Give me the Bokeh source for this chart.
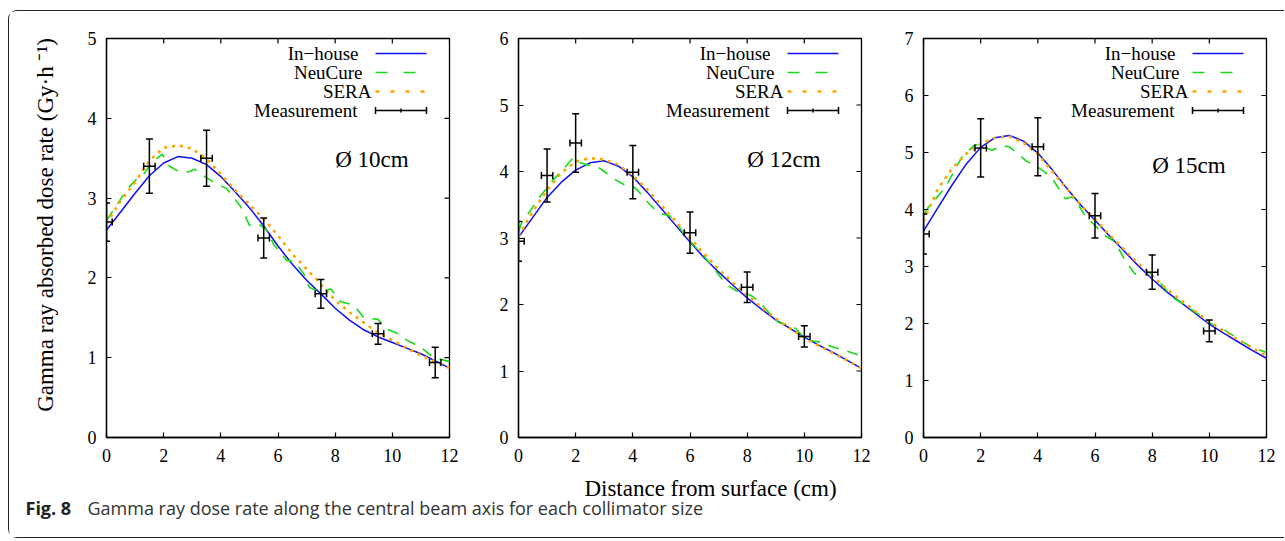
import math
from bokeh.plotting import figure
from bokeh.models import Range1d, FixedTicker, Label, ColumnDataSource
from bokeh.layouts import row, column
from bokeh.embed import file_html
from bokeh.resources import INLINE

SERIF = "Liberation Serif"
SANS = "Open Sans"

# ---------------- data ----------------
x_ticks = [0, 2, 4, 6, 8, 10, 12]
series_names = ["In\u2212house", "NeuCure", "SERA", "Measurement"]
panel_tags = ["\u00d8 10cm", "\u00d8 12cm", "\u00d8 15cm"]
y_max = [5, 6, 7]
y_title = "Gamma ray absorbed dose rate (Gy\u00b7h \u207b\u00b9)"
x_title = "Distance from surface (cm)"
caption_bold = "Fig. 8"
caption_text = "Gamma ray dose rate along the central beam axis for each collimator size"

x_model = [0, 0.5, 1, 1.5, 2, 2.5, 3, 3.5, 4, 4.5, 5, 5.5, 6, 6.5, 7, 7.5, 8,
           8.5, 9, 9.5, 10, 10.5, 11, 11.5, 12]

# 10 cm collimator
inhouse_10 = [2.60, 2.83, 3.06, 3.28, 3.44, 3.52, 3.50, 3.42, 3.27, 3.08, 2.88, 2.65,
              2.40, 2.17, 1.97, 1.80, 1.62, 1.47, 1.35, 1.26, 1.19, 1.12, 1.05, 0.96, 0.87]
sera_10 = [2.68, 2.97, 3.20, 3.47, 3.63, 3.66, 3.62, 3.49, 3.30, 3.10, 2.92, 2.74,
           2.53, 2.30, 2.11, 1.92, 1.72, 1.57, 1.44, 1.31, 1.22, 1.12, 1.03, 0.95, 0.87]
neucure_10_x = [0, 0.3, 0.7, 1.0, 1.3, 1.6, 1.95, 2.2, 2.5, 2.8, 3.1, 3.4, 3.75, 4.2,
                4.7, 5.0, 5.3, 5.6, 5.85, 6.3, 6.6, 6.9, 7.1, 7.3, 7.55, 7.85, 8.2,
                8.65, 9.0, 9.5, 9.8, 10.2, 10.5, 11.0, 11.45, 11.9, 12]
neucure_10_y = [2.72, 2.88, 3.10, 3.22, 3.30, 3.45, 3.55, 3.40, 3.34, 3.32, 3.36, 3.28,
                3.20, 3.12, 2.89, 2.66, 2.68, 2.60, 2.42, 2.22, 2.20, 2.05, 1.88, 1.85,
                1.84, 1.86, 1.70, 1.66, 1.50, 1.48, 1.36, 1.30, 1.22, 1.13, 1.00, 0.96, 0.95]
meas_10_x = [0, 1.5, 3.5, 5.5, 7.5, 9.5, 11.5]
meas_10_y = [2.70, 3.40, 3.50, 2.50, 1.80, 1.30, 0.94]
meas_10_err = [0.24, 0.34, 0.35, 0.25, 0.18, 0.13, 0.19]

# 12 cm collimator
inhouse_12 = [3.01, 3.31, 3.61, 3.84, 4.02, 4.13, 4.16, 4.08, 3.92, 3.69, 3.44, 3.19,
              2.94, 2.70, 2.49, 2.29, 2.10, 1.93, 1.77, 1.64, 1.51, 1.39, 1.28, 1.16, 1.04]
sera_12 = [3.02, 3.40, 3.72, 3.98, 4.15, 4.20, 4.18, 4.10, 3.94, 3.73, 3.49, 3.25,
           3.00, 2.76, 2.53, 2.33, 2.14, 1.96, 1.79, 1.64, 1.50, 1.38, 1.27, 1.16, 1.04]
neucure_12_x = [0, 0.15, 0.4, 0.7, 1.0, 1.2, 1.5, 1.9, 2.1, 2.4, 2.7, 3.0, 3.3, 3.7,
                4.0, 4.2, 4.6, 4.9, 5.3, 5.6, 5.85, 6.2, 6.5, 6.8, 7.25, 7.6, 7.9, 8.2,
                8.5, 8.8, 9.1, 9.4, 9.7, 10.05, 10.3, 10.6, 11.0, 11.4, 11.9, 12]
neucure_12_y = [3.10, 3.27, 3.40, 3.60, 3.75, 3.87, 4.00, 4.20, 4.14, 4.10, 4.09, 4.00,
                3.90, 3.80, 3.78, 3.70, 3.50, 3.38, 3.33, 3.18, 3.02, 2.86, 2.72, 2.56,
                2.31, 2.21, 2.18, 2.12, 2.00, 1.86, 1.73, 1.70, 1.64, 1.47, 1.45, 1.43,
                1.36, 1.31, 1.24, 1.22]
meas_12_x = [0, 1, 2, 4, 6, 8, 10]
meas_12_y = [2.95, 3.94, 4.43, 3.99, 3.08, 2.26, 1.52]
meas_12_err = [0.30, 0.40, 0.44, 0.40, 0.31, 0.23, 0.16]

# 15 cm collimator
inhouse_15 = [3.62, 4.03, 4.43, 4.80, 5.09, 5.26, 5.30, 5.20, 4.99, 4.70, 4.38, 4.08,
              3.81, 3.54, 3.28, 3.02, 2.78, 2.56, 2.37, 2.18, 1.99, 1.83, 1.68, 1.53, 1.39]
sera_15 = [3.79, 4.36, 4.72, 4.98, 5.15, 5.26, 5.28, 5.17, 4.97, 4.67, 4.37, 4.08,
           3.83, 3.56, 3.31, 3.06, 2.83, 2.61, 2.41, 2.22, 2.03, 1.87, 1.72, 1.57, 1.43]
neucure_15_x = [0, 0.17, 0.45, 0.76, 1.05, 1.34, 1.8, 2.1, 2.4, 2.74, 3.0, 3.3, 3.6,
                4.0, 4.26, 4.5, 4.7, 4.96, 5.19, 5.4, 5.66, 6.0, 6.36, 6.7, 7.06, 7.4,
                7.9, 8.3, 8.7, 9.0, 9.6, 9.97, 10.55, 11.1, 11.5, 11.95, 12]
neucure_15_y = [3.90, 4.04, 4.20, 4.39, 4.65, 4.92, 5.14, 5.10, 5.04, 5.12, 5.10, 4.98,
                4.85, 4.74, 4.65, 4.55, 4.39, 4.19, 4.22, 4.10, 3.88, 3.72, 3.54, 3.43,
                3.10, 2.87, 2.90, 2.70, 2.46, 2.37, 2.17, 2.02, 1.88, 1.70, 1.58, 1.50, 1.50]
meas_15_x = [0, 2, 4, 6, 8, 10]
meas_15_y = [3.57, 5.08, 5.10, 3.89, 2.90, 1.87]
meas_15_err = [0.35, 0.51, 0.51, 0.39, 0.30, 0.19]

meas_xerr = 0.2
tag_y = [3.48, 4.18, 4.77]

# ---------------- styling ----------------
BLUE = "#1010f0"
GREEN = "#16dc16"
ORANGE = "#ffa500"
BLACK = "#000000"

ROW_H = 458
FRAME_W = 343
FRAME_H = 399
TOP = 27


def style_axis(ax, ticks):
    ax.ticker = FixedTicker(ticks=ticks)
    ax.major_tick_in = 5
    ax.major_tick_out = 0
    ax.minor_tick_in = 0
    ax.minor_tick_out = 0
    ax.axis_line_color = BLACK
    ax.axis_line_width = 1.3
    ax.major_tick_line_color = BLACK
    ax.major_tick_line_width = 1.2
    ax.major_label_text_font = SERIF
    ax.major_label_text_color = BLACK
    ax.major_label_text_font_size = "18px"


def make_panel(idx, width, left, right, inhouse, sera, nx, ny, mx, my, merr):
    ymax = y_max[idx]
    p = figure(width=width, height=ROW_H,
               x_range=Range1d(0, 12), y_range=Range1d(0, ymax),
               output_backend="svg", toolbar_location=None,
               min_border_left=left, min_border_right=right,
               min_border_top=TOP, min_border_bottom=ROW_H - TOP - FRAME_H)
    p.xgrid.visible = False
    p.ygrid.visible = False
    p.outline_line_color = BLACK
    p.outline_line_width = 1.3
    p.background_fill_color = "white"
    p.border_fill_color = "white"

    ppx = FRAME_W / 12.0
    ppy = FRAME_H / float(ymax)

    yt = list(range(0, ymax + 1))
    style_axis(p.xaxis[0], x_ticks)
    p.xaxis[0].major_label_standoff = 11
    style_axis(p.yaxis[0], yt)
    p.yaxis[0].major_label_standoff = 10

    # mirrored inward ticks on top and right edges (half of each dash is clipped by the frame)
    p.scatter(x_ticks, [ymax] * len(x_ticks), marker="dash", angle=math.pi / 2, size=10,
              line_color=BLACK, line_width=1.2)
    p.scatter([12] * len(yt), yt, marker="dash", size=10, line_color=BLACK, line_width=1.2)

    # curves
    p.line(x_model, inhouse, line_color=BLUE, line_width=1.5)
    p.line(nx, ny, line_color=GREEN, line_width=1.6, line_dash="11 9")
    p.line(x_model, sera, line_color=ORANGE, line_width=2.6, line_dash="3 5")

    # measurements with x/y error bars
    src = ColumnDataSource(dict(
        x=mx, y=my,
        lo=[v - e for v, e in zip(my, merr)],
        hi=[v + e for v, e in zip(my, merr)],
        xl=[v - meas_xerr for v in mx],
        xr=[v + meas_xerr for v in mx],
    ))
    p.segment(x0="x", y0="lo", x1="x", y1="hi", source=src, line_color=BLACK, line_width=1.5)
    p.segment(x0="xl", y0="y", x1="xr", y1="y", source=src, line_color=BLACK, line_width=1.5)
    for ycol in ("lo", "hi"):
        p.scatter(x="x", y=ycol, source=src, marker="dash", size=7,
                  line_color=BLACK, line_width=1.5)
    for xcol in ("xl", "xr"):
        p.scatter(x=xcol, y="y", source=src, marker="dash", angle=math.pi / 2, size=7,
                  line_color=BLACK, line_width=1.5)

    # custom legend (text right-aligned, sample on the right)
    row_off = [15, 34, 53, 72]
    text_right = [252, 256, 265, 251]
    ly = [ymax - o / ppy for o in row_off]
    sx0, sx1 = 269 / ppx, 320 / ppx
    for name, yy, tr in zip(series_names, ly, text_right):
        p.add_layout(Label(x=tr / ppx, y=yy, text=name, text_align="right",
                           text_baseline="middle", text_font=SERIF,
                           text_font_size="19px", text_color=BLACK))
    p.line([sx0, sx1], [ly[0], ly[0]], line_color=BLUE, line_width=1.5)
    p.line([sx0, sx1], [ly[1], ly[1]], line_color=GREEN, line_width=1.6, line_dash="12 16")
    p.line([sx0, sx1], [ly[2], ly[2]], line_color=ORANGE, line_width=2.6, line_dash="4 11")
    p.line([sx0, sx1], [ly[3], ly[3]], line_color=BLACK, line_width=1.5)
    p.scatter([sx0, sx1], [ly[3], ly[3]], marker="dash", angle=math.pi / 2, size=7,
              line_color=BLACK, line_width=1.5)
    p.scatter([(sx0 + sx1) / 2], [ly[3]], marker="dash", angle=math.pi / 2, size=4,
              line_color=BLACK, line_width=1.5)

    p.add_layout(Label(x=8, y=tag_y[idx], text=panel_tags[idx], text_align="left",
                       text_baseline="middle", text_font=SERIF, text_font_size="23px",
                       text_color=BLACK))
    return p


# narrow strip holding the rotated y-axis title
WY = 60
fy = figure(width=WY, height=ROW_H, x_range=Range1d(0, WY), y_range=Range1d(0, ROW_H),
            output_backend="svg", toolbar_location=None, min_border=0,
            x_axis_location=None, y_axis_location=None)
fy.grid.visible = False
fy.outline_line_color = None
fy.add_layout(Label(x=36, y=ROW_H - 214, text=y_title, angle=math.pi / 2,
                    text_align="center", text_baseline="middle",
                    text_font=SERIF, text_font_size="23px", text_color=BLACK))

W1, W2, W3 = 475 - WY, 408, 392
f1 = make_panel(0, W1, 97 - WY, 35, inhouse_10, sera_10, neucure_10_x, neucure_10_y,
                meas_10_x, meas_10_y, meas_10_err)
f2 = make_panel(1, W2, 34, 31, inhouse_12, sera_12, neucure_12_x, neucure_12_y,
                meas_12_x, meas_12_y, meas_12_err)
f3 = make_panel(2, W3, 31, W3 - 31 - FRAME_W, inhouse_15, sera_15, neucure_15_x, neucure_15_y,
                meas_15_x, meas_15_y, meas_15_err)

CAP_W = WY + W1 + W2 + W3
CAP_H = 68
pc = figure(width=CAP_W, height=CAP_H, x_range=Range1d(0, CAP_W), y_range=Range1d(CAP_H, 0),
            output_backend="svg", toolbar_location=None, min_border=0,
            x_axis_location=None, y_axis_location=None)
pc.grid.visible = False
pc.outline_line_color = None
pc.add_layout(Label(x=701, y=19, text=x_title, text_align="center",
                    text_baseline="alphabetic", text_font=SERIF, text_font_size="23px",
                    text_color=BLACK))
pc.add_layout(Label(x=16, y=38, text=caption_bold, text_align="left", text_baseline="alphabetic",
                    text_font=SANS, text_font_size="18px", text_font_style="bold",
                    text_color="#222222"))
pc.add_layout(Label(x=78, y=38, text=caption_text,
                    text_align="left", text_baseline="alphabetic", text_font=SANS,
                    text_font_size="18px", text_color="#333333"))

layout = column(row(fy, f1, f2, f3), pc,
                styles={"margin-left": "8px", "margin-top": "10px",
                        "border-top": "1px solid #222", "border-left": "1px solid #222",
                        "border-bottom": "1px solid #222",
                        "border-top-left-radius": "9px", "border-bottom-left-radius": "9px"})

open("out.html", "w").write(file_html(layout, INLINE, "Gamma ray dose rate"))
